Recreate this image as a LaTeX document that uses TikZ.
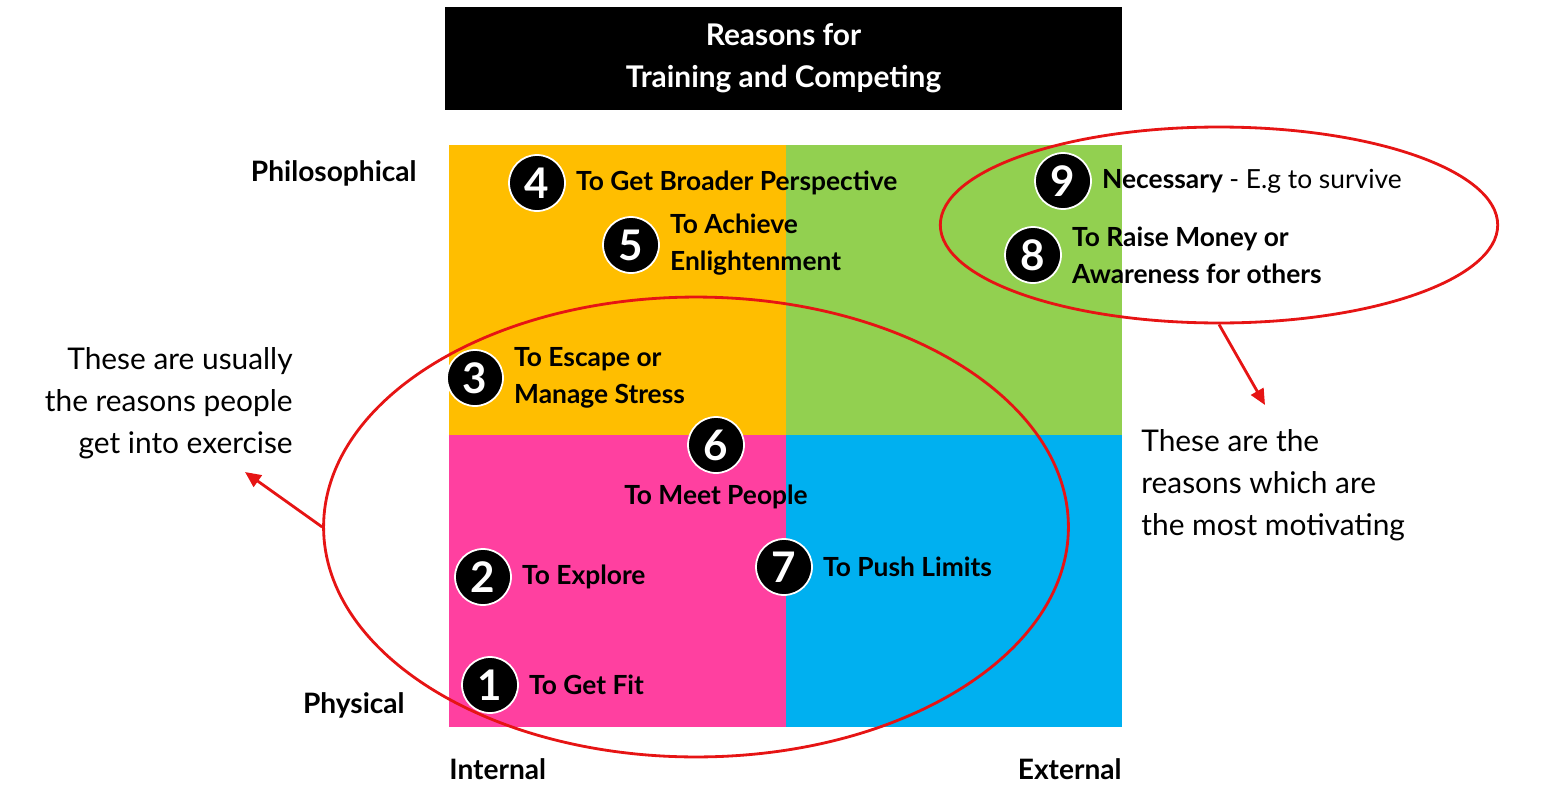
\documentclass[tikz,border=0pt]{standalone}
\usepackage{fontspec}
\setmainfont{Lato}
\usetikzlibrary{positioning, arrows.meta, shapes.geometric}
\definecolor{qorange}{RGB}{255,190,0}
\definecolor{qgreen}{RGB}{146,208,80}
\definecolor{qpink}{RGB}{255,64,160}
\definecolor{qblue}{RGB}{0,176,240}
\definecolor{ringred}{RGB}{230,20,20}
\begin{document}
\begin{tikzpicture}[x=0.02cm, y=-0.02cm,
    num/.style={circle, fill=black, draw=white, line width=1pt, minimum size=1.12cm, inner sep=0pt, text=white, font=\fontsize{24}{24}\selectfont\bfseries},
    reason/.style={anchor=west, align=left, inner sep=0pt, font=\fontsize{15}{21}\selectfont\bfseries},
    axis/.style={inner sep=0pt, font=\fontsize{16}{18}\selectfont\bfseries},
    note/.style={inner sep=0pt, font=\fontsize{17}{24}\selectfont},
    ring/.style={ellipse, draw=ringred, line width=1.6pt, inner sep=0pt},
    pointer/.style={draw=ringred, line width=1.6pt, -{Triangle[length=9pt, width=8pt]}}
  ]
\useasboundingbox (0,0) rectangle (1565,808);

%% title and quadrants
\node (T) [fill=black, text=white, minimum width=13.54cm, minimum height=2.06cm, align=center, font=\fontsize{17}{24}\selectfont\bfseries] at (783.5,58.5) {Reasons for\\Training and Competing};
\fill[qorange] (449,145) rectangle (786,435);
\fill[qgreen] (786,145) rectangle (1122,435);
\fill[qpink] (449,435) rectangle (786,727);
\fill[qblue] (786,435) rectangle (1122,727);

%% axis labels
\node[axis, anchor=east] (Phil) at (417,173) {Philosophical};
\node[axis, anchor=east] (Phys) at (405,705) {Physical};
\node[axis, anchor=west] (Int) at (449,769) {Internal};
\node[axis, anchor=east] (Ext) at (1122,769) {External};

%% numbered reasons
\node[num] (n4) at (537,183) {4};
\node[reason, right=0.2cm of n4] {To Get Broader Perspective};
\node[num] (n5) at (631,245) {5};
\node[reason, right=0.2cm of n5] {To Achieve\\Enlightenment};
\node[num] (n9) at (1063,181) {9};
\node[reason, right=0.2cm of n9] {Necessary \mdseries- E.g to survive};
\node[num] (n8) at (1033,255) {8};
\node[reason, right=0.2cm of n8] {To Raise Money or\\Awareness for others};
\node[num] (n3) at (475,378) {3};
\node[reason, right=0.2cm of n3] {To Escape or\\Manage Stress};
\node[num] (n6) at (716,445) {6};
\node[reason, anchor=center] (m6) at (716,497) {To Meet People};
\node[num] (n2) at (483,577) {2};
\node[reason, right=0.2cm of n2] {To Explore};
\node[num] (n7) at (784,567) {7};
\node[reason, right=0.2cm of n7] {To Push Limits};
\node[num] (n1) at (490,685) {1};
\node[reason, right=0.2cm of n1] {To Get Fit};

%% rings and notes
\node[ring, minimum width=14.9cm, minimum height=9.2cm] (Rin) at (696,527) {};
\node[ring, minimum width=11.15cm, minimum height=3.92cm] (Rout) at (1219,225) {};
\node[note, anchor=east, align=right] (Lnote) at (293,403) {These are usually\\the reasons people\\get into exercise};
\node[note, anchor=west, align=left] (Rnote) at (1141,485) {These are the\\reasons which are\\the most motivating};
\coordinate (lt) at (245,472);
\coordinate (rt) at (1265,405);
\draw[pointer] (Rin.west) -- (lt);
\draw[pointer] (Rout.south) -- (rt);
\end{tikzpicture}
\end{document}
